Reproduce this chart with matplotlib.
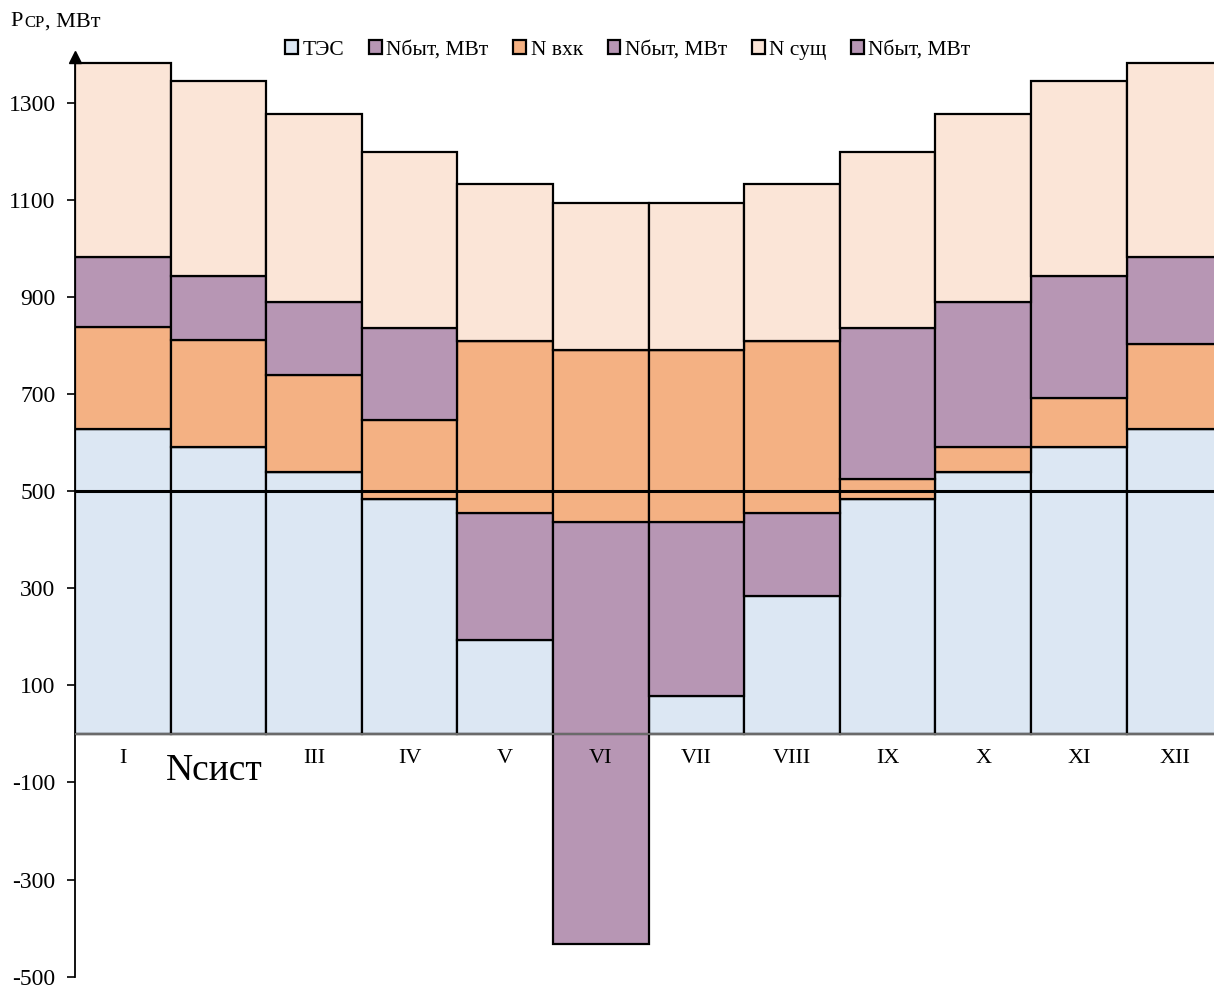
import numpy as np
import matplotlib.pyplot as plt

plt.rcParams['font.family'] = ['Liberation Serif', 'DejaVu Serif']
plt.rcParams['axes.unicode_minus'] = False

months = ['I', 'II', 'III', 'IV', 'V', 'VI', 'VII', 'VIII', 'IX', 'X', 'XI', 'XII']

# MW values per month, stacked bottom to top
tes = [629, 592, 539, 483, 193, 0, 78, 284, 483, 539, 592, 629]
n_byt_low = [0, 0, 0, 0, 263, 436, 358, 172, 0, 0, 0, 0]      # Nбыт below N вхк
n_byt_neg = [0, 0, 0, 0, 0, -432, 0, 0, 0, 0, 0, 0]           # part of Nбыт below zero
n_vhk = [210, 220, 201, 164, 354, 355, 355, 354, 43, 51, 99, 175]
n_byt_high = [144, 131, 150, 190, 0, 0, 0, 0, 311, 300, 252, 179]  # Nбыт above N вхк
n_sush = [400, 401, 386, 361, 323, 303, 303, 323, 361, 386, 401, 400]
n_sist = 500

c_tes = '#dce7f3'
c_byt = '#b796b4'
c_vhk = '#f4b183'
c_sush = '#fbe5d7'

fig = plt.figure(figsize=(12.14, 9.86), dpi=100)
ax = fig.add_axes([0.0618, 0.0095, 0.945, 0.933])

x = np.arange(len(months))
tes = np.array(tes)
n_byt_low = np.array(n_byt_low)
n_byt_neg = np.array(n_byt_neg)
n_vhk = np.array(n_vhk)
n_byt_high = np.array(n_byt_high)
n_sush = np.array(n_sush)

kw = dict(width=1.0, edgecolor='black', linewidth=1.6)
ax.bar(x, tes, color=c_tes, label='ТЭС', **kw)
b = tes.copy()
ax.bar(x, n_byt_low - n_byt_neg, bottom=b + n_byt_neg, color=c_byt, label='Nбыт, МВт', **kw)
b = b + n_byt_low
ax.bar(x, n_vhk, bottom=b, color=c_vhk, label='N вхк', **kw)
b = b + n_vhk
ax.bar(x, n_byt_high, bottom=b, color=c_byt, label='Nбыт, МВт', **kw)
b = b + n_byt_high
ax.bar(x, n_sush, bottom=b, color=c_sush, label='N сущ', **kw)
# empty series kept for the legend
ax.bar(x, np.zeros(len(x)), color=c_byt, label='Nбыт, МВт', **kw)

ax.axhline(n_sist, color='black', linewidth=2.2, zorder=5)
ax.axhline(0, color='#808080', linewidth=1.2, zorder=5)

ax.set_xlim(-0.5, 11.5)
ax.set_ylim(-500, 1395)
ax.set_yticks(np.arange(-500, 1301, 200))
ax.tick_params(axis='y', labelsize=17, length=6, width=1.2, direction='out', pad=8)
ax.set_xticks([])
for s in ['top', 'right', 'bottom']:
    ax.spines[s].set_visible(False)
ax.spines['left'].set_linewidth(1.3)
ax.plot([-0.5], [1395], marker='^', color='black', markersize=8, clip_on=False)

# month labels; the second one sits under the Nсист caption
for i, m in enumerate(months):
    if i == 1:
        continue
    ax.text(i, -50, m, ha='center', va='center', fontsize=16, zorder=6)

ax.text(0.96, -76, 'Nсист', ha='center', va='center', fontsize=27, zorder=7)

fig.text(10 / 1214, 1 - 22 / 986, 'Р', fontsize=16, va='center', ha='left')
fig.text(24 / 1214, 1 - 23 / 986, 'СР', fontsize=12, va='center', ha='left')
fig.text(45 / 1214, 1 - 22 / 986, ', МВт', fontsize=16, va='center', ha='left')

fig.legend(loc='center', bbox_to_anchor=(628 / 1214, 1 - 50 / 986), ncol=6,
           frameon=False, fontsize=15.5, handlelength=0.6, handleheight=0.6,
           handletextpad=0.2, columnspacing=1.15)

fig.savefig('out.png', dpi=100)
